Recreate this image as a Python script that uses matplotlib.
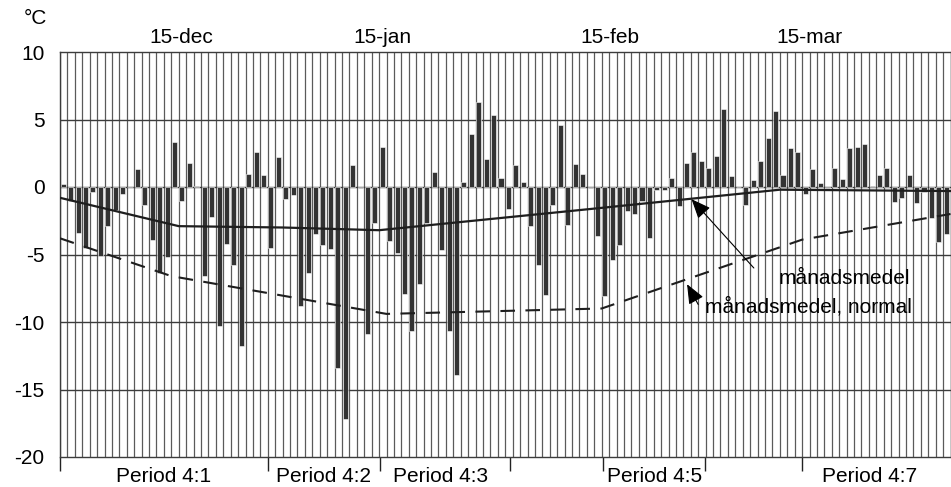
import matplotlib
matplotlib.use("Agg")
import matplotlib.pyplot as plt
import numpy as np

plt.rcParams["font.family"] = ["Liberation Sans", "DejaVu Sans"]
plt.rcParams["axes.unicode_minus"] = False

# dygnsmedeltemperatur (°C), dag 0 = 1 december
temp = [0.2, -1.0, -3.4, -4.5, -0.4, -5.1, -2.9, -1.7, -0.5, 0.0,
        1.3, -1.3, -3.9, -6.4, -5.2, 3.3, -1.0, 1.8, 0.1, -6.6,
        -2.2, -10.3, -4.2, -5.8, -11.8, 1.0, 2.6, 0.9, -4.5, 2.2,
        -0.9, -0.6, -8.8, -6.4, -3.5, -4.3, -4.6, -13.4, -17.2, 1.6,
        -0.1, -10.9, -2.7, 3.0, -4.0, -4.9, -7.9, -10.7, -7.2, -2.7,
        1.1, -4.7, -10.7, -13.9, 0.4, 3.9, 6.3, 2.1, 5.3, 0.7,
        -1.6, 1.6, 0.4, -2.9, -5.8, -8.0, -1.3, 4.6, -2.8, 1.7,
        1.0, -0.1, -3.6, -8.1, -5.4, -4.3, -1.8, -2.0, -1.0, -3.8,
        -0.2, -0.2, 0.7, -1.4, 1.8, 2.6, 1.9, 1.4, 2.3, 5.8,
        0.8, 0.0, -1.3, 0.5, 1.9, 3.6, 5.6, 0.9, 2.9, 2.6,
        -0.5, 1.3, 0.3, -0.1, 1.4, 0.6, 2.9, 3.0, 3.2, 0.05,
        0.9, 1.4, -1.1, -0.8, 0.9, -1.2, -0.4, -2.3, -4.1, -3.5]

# månadsmedel (dag, °C)
medel_dag = [0, 16, 30, 43, 72, 97, 120]
medel_temp = [-0.8, -2.9, -3.0, -3.2, -1.6, -0.2, -0.3]

# månadsmedel, normal (dag, °C)
normal_dag = [0, 15, 44, 73, 100, 120]
normal_temp = [-3.8, -6.6, -9.4, -9.0, -3.9, -2.0]

manad_pos = [16.4, 43.5, 74.1, 101.0]
manad_txt = ["15-dec", "15-jan", "15-feb", "15-mar"]

period_grans = [0, 28.0, 43.1, 60.6, 73.2, 86.9, 100.0]
period_pos = [13.9, 29.1, 44.9, 73.7, 102.7]
period_txt = ["Period 4:1", "Period 4:2", "Period 4:3", "Period 4:5", "Period 4:7"]
period_ha = ["center", "left", "left", "left", "left"]

ndag = len(temp)
grid_farg = "#5a5a5a"

fig = plt.figure(figsize=(9.51, 4.87), dpi=100)
ax = fig.add_axes([60 / 951, 1 - 457 / 487, 890.5 / 951, 405 / 487])

# rutnät
ax.vlines(np.arange(0, ndag + 1), -20, 10, color=grid_farg, lw=0.9, zorder=1)
ax.hlines(np.arange(-15, 10, 5), 0, ndag, color="#3c3c3c", lw=1.0, zorder=1)

ax.bar(np.arange(ndag) + 0.43, temp, width=0.68, color="#333333",
       edgecolor="white", linewidth=0.4, zorder=2)

ax.plot(medel_dag, medel_temp, color="#1e1e1e", lw=1.6, zorder=3)
ax.plot(normal_dag, normal_temp, color="#1e1e1e", lw=1.5,
        dashes=(7, 5), zorder=3)

fs = 15
for x, t in zip(manad_pos, manad_txt):
    ax.text(x, 11.1, t, ha="center", va="center", fontsize=fs, clip_on=False)
for x, t, h in zip(period_pos, period_txt, period_ha):
    ax.text(x, -21.45, t, ha=h, va="center", fontsize=fs, clip_on=False)
fig.text(24 / 951, 1 - 19 / 487, "°C", ha="left", va="center", fontsize=fs)

pil = dict(arrowstyle="-|>,head_length=1.2,head_width=0.5", color="black",
           lw=0.8, shrinkA=0, shrinkB=0)
ax.annotate("", xy=(85.1, -0.9), xytext=(93.5, -6.0), arrowprops=pil, zorder=4)
ax.annotate("", xy=(84.5, -7.2), xytext=(86.0, -8.7), arrowprops=pil, zorder=4)
ax.text(96.8, -6.8, "månadsmedel", ha="left", va="center", fontsize=fs, zorder=4)
ax.text(86.9, -8.9, "månadsmedel, normal", ha="left", va="center",
        fontsize=fs, zorder=4)

ax.set_xlim(0, ndag)
ax.set_ylim(-20, 10)
ax.set_yticks(np.arange(-20, 11, 5))
ax.set_xticks(period_grans)
ax.set_xticklabels([])
ax.tick_params(axis="x", length=10, width=1.0, direction="out", color="#222222")
ax.tick_params(axis="y", length=0, pad=11, labelsize=fs)
for s in ax.spines.values():
    s.set_color("#3c3c3c")
    s.set_linewidth(1.0)

plt.savefig("out.png", dpi=100)
